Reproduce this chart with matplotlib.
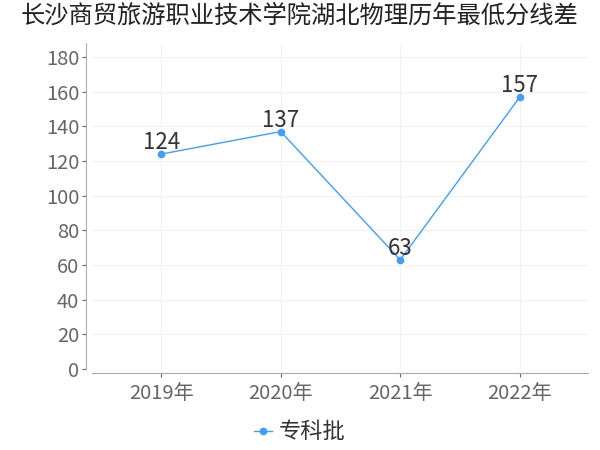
import matplotlib.pyplot as plt

plt.rcParams['font.family'] = ['Noto Sans CJK SC', 'DejaVu Sans']

years = ['2019年', '2020年', '2021年', '2022年']
scores = [124, 137, 63, 157]
series_name = '专科批'
title = '长沙商贸旅游职业技术学院湖北物理历年最低分线差'

fig = plt.figure(figsize=(6, 4.5), dpi=100)
ax = fig.add_axes([0.153, 0.18, 0.827, 0.724])

x = list(range(len(years)))
ax.plot(x, scores, color='#409EFF', linewidth=1, marker='o', markersize=4.5,
        label=series_name)
for xi, v in zip(x, scores):
    ax.annotate(str(v), (xi, v), xytext=(0, 0), textcoords='offset points',
                ha='center', va='bottom', fontsize=16, color='#333333')

ax.set_xlim(-0.58, 3.57)
ax.set_ylim(0, 188)
ax.set_yticks(range(0, 181, 20))
ax.set_xticks(x)
ax.set_xticklabels(years)
ax.tick_params(axis='both', labelsize=14.5, colors='#666666', length=3, width=0.8)
ax.tick_params(axis='y', pad=2)
ax.tick_params(axis='x', pad=4)

ax.grid(True, color='#f2f2f2', linewidth=0.8)
ax.set_axisbelow(True)
for s in ['top', 'right']:
    ax.spines[s].set_visible(False)
ax.spines['left'].set_color('#aaaaaa')
ax.spines['bottom'].set_color('#aaaaaa')
ax.spines['left'].set_position(('outward', 4))
ax.spines['bottom'].set_position(('outward', 3))

fig.suptitle(title, fontsize=17.5, color='#222222', y=0.995)
fig.legend(loc='lower center', bbox_to_anchor=(0.5, -0.03), frameon=False,
           fontsize=16, handlelength=0.8, handletextpad=0.3,
           labelcolor='#333333')

fig.savefig('out.png')
